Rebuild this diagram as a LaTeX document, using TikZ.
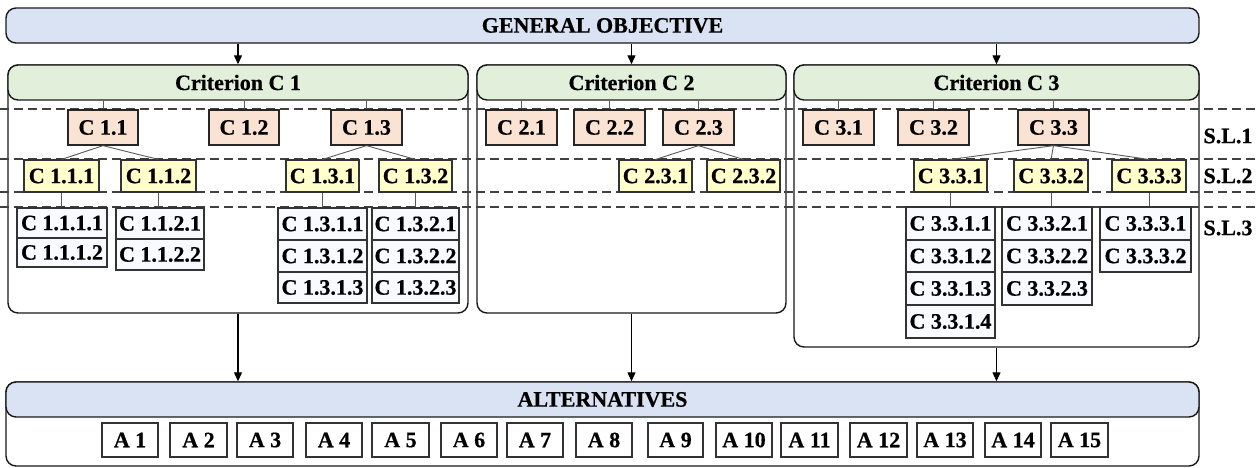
\documentclass[tikz,border=0pt]{standalone}
\usepackage{fontspec}
\setmainfont{Liberation Serif}[BoldFeatures={FakeBold=0.6}]
\usetikzlibrary{arrows.meta}
\definecolor{hdrblue}{HTML}{DAE3F3}
\definecolor{hdrgreen}{HTML}{E2EFDA}
\definecolor{lvlone}{HTML}{FBE3D4}
\definecolor{lvltwo}{HTML}{FFFFCC}
\definecolor{lvlthree}{HTML}{F8FAFD}
\newcommand{\mkbox}[7]{\node[#6, minimum width={#4pt-#2pt}, minimum height={#5pt-#3pt}] (#1) at ({(#2+#4)/2},{(#3+#5)/2}) {#7};}
\begin{document}
\begin{tikzpicture}[x=1pt,y=-1pt,
  txt/.style={font=\fontsize{22}{25}\selectfont\bfseries, text=black},
  frame/.style={draw=black!90, line width=1.4pt, rounded corners=10pt, inner sep=0pt},
  hdrb/.style={frame, fill=hdrblue, txt},
  hdrg/.style={frame, fill=hdrgreen, txt},
  cell/.style={draw=black!80, line width=1.1pt, inner sep=0pt, txt},
  lone/.style={cell, fill=lvlone, draw=black!85, line width=1.3pt},
  ltwo/.style={cell, fill=lvltwo},
  lthree/.style={cell, fill=lvlthree},
  abox/.style={cell, fill=white},
  conn/.style={draw=black!65, line width=0.9pt},
  arr/.style={draw=black, line width=1.2pt, -{Triangle[length=9pt,width=8pt]}},
  sepline/.style={draw=black!75, line width=1.1pt, dash pattern=on 9pt off 5pt},
  sl/.style={txt, inner sep=0pt}
]
\useasboundingbox (0,0) rectangle (1259,468);
% containers (no fill)
\mkbox{C1box}{8}{65}{468}{313}{frame}{}
\mkbox{C2box}{477}{65}{786}{313}{frame}{}
\mkbox{C3box}{794}{65}{1199}{347}{frame}{}
\mkbox{Altbox}{6}{382}{1199}{466}{frame}{}
% level separators
\foreach \yy in {109,159,192,207} {\draw[sepline] (0,\yy) -- (1255,\yy);}
% headers
\mkbox{GO}{6}{8}{1199}{43}{hdrb}{GENERAL OBJECTIVE}
\mkbox{C1}{8}{65}{468}{100}{hdrg}{Criterion C 1}
\mkbox{C2}{477}{65}{786}{100}{hdrg}{Criterion C 2}
\mkbox{C3}{794}{65}{1199}{100}{hdrg}{Criterion C 3}
\mkbox{ALT}{6}{382}{1199}{417}{hdrb}{ALTERNATIVES}
% arrows
\draw[arr] (C1.north |- GO.south) -- (C1.north);
\draw[arr] (C2.north |- GO.south) -- (C2.north);
\draw[arr] (C3.north |- GO.south) -- (C3.north);
\draw[arr] (C1box.south) -- (C1box.south |- ALT.north);
\draw[arr] (C2box.south) -- (C2box.south |- ALT.north);
\draw[arr] (C3box.south) -- (C3box.south |- ALT.north);
% level 1
\mkbox{c11}{68}{110}{138}{145}{lone}{C 1.1}
\mkbox{c12}{209}{110}{279}{145}{lone}{C 1.2}
\mkbox{c13}{331}{110}{402}{145}{lone}{C 1.3}
\mkbox{c21}{486}{110}{557}{145}{lone}{C 2.1}
\mkbox{c22}{574}{110}{645}{145}{lone}{C 2.2}
\mkbox{c23}{663}{110}{734}{145}{lone}{C 2.3}
\mkbox{c31}{803}{110}{874}{145}{lone}{C 3.1}
\mkbox{c32}{898}{110}{969}{145}{lone}{C 3.2}
\mkbox{c33}{1018}{110}{1089}{145}{lone}{C 3.3}
\foreach \p/\c in {C1/c11,C1/c12,C1/c13,C2/c21,C2/c22,C2/c23,C3/c31,C3/c32,C3/c33}
  {\draw[conn] (\c.north |- \p.south) -- (\c.north);}
% level 2
\mkbox{c111}{24}{160}{99}{192}{ltwo}{C 1.1.1}
\mkbox{c112}{121}{160}{196}{192}{ltwo}{C 1.1.2}
\mkbox{c131}{286}{160}{359}{192}{ltwo}{C 1.3.1}
\mkbox{c132}{379}{160}{452}{192}{ltwo}{C 1.3.2}
\mkbox{c231}{619}{160}{692}{192}{ltwo}{C 2.3.1}
\mkbox{c232}{707}{160}{780}{192}{ltwo}{C 2.3.2}
\mkbox{c331}{914}{160}{987}{192}{ltwo}{C 3.3.1}
\mkbox{c332}{1014}{160}{1088}{192}{ltwo}{C 3.3.2}
\mkbox{c333}{1112}{160}{1186}{192}{ltwo}{C 3.3.3}
\foreach \p/\c in {c11/c111,c11/c112,c13/c131,c13/c132,c23/c231,c23/c232,c33/c331,c33/c332,c33/c333}
  {\draw[conn] (\p.south) -- (\c.north);}
% level 3
\mkbox{c1111}{17}{208}{107}{238}{lthree}{C 1.1.1.1}
\mkbox{c1112}{17}{238}{107}{267}{lthree}{C 1.1.1.2}
\mkbox{c1121}{116}{208}{204}{239}{lthree}{C 1.1.2.1}
\mkbox{c1122}{116}{239}{204}{270}{lthree}{C 1.1.2.2}
\mkbox{c1311}{278}{208}{367}{240}{lthree}{C 1.3.1.1}
\mkbox{c1312}{278}{240}{367}{272}{lthree}{C 1.3.1.2}
\mkbox{c1313}{278}{272}{367}{303}{lthree}{C 1.3.1.3}
\mkbox{c1321}{372}{208}{459}{240}{lthree}{C 1.3.2.1}
\mkbox{c1322}{372}{240}{459}{272}{lthree}{C 1.3.2.2}
\mkbox{c1323}{372}{272}{459}{303}{lthree}{C 1.3.2.3}
\mkbox{c3311}{906}{207}{995}{240}{lthree}{C 3.3.1.1}
\mkbox{c3312}{906}{240}{995}{272}{lthree}{C 3.3.1.2}
\mkbox{c3313}{906}{272}{995}{305}{lthree}{C 3.3.1.3}
\mkbox{c3314}{906}{305}{995}{338}{lthree}{C 3.3.1.4}
\mkbox{c3321}{1002}{207}{1092}{240}{lthree}{C 3.3.2.1}
\mkbox{c3322}{1002}{240}{1092}{272}{lthree}{C 3.3.2.2}
\mkbox{c3323}{1002}{272}{1092}{305}{lthree}{C 3.3.2.3}
\mkbox{c3331}{1100}{207}{1191}{240}{lthree}{C 3.3.3.1}
\mkbox{c3332}{1100}{240}{1191}{272}{lthree}{C 3.3.3.2}
\foreach \p/\c in {c111/c1111,c112/c1121,c131/c1311,c132/c1321,c331/c3311,c332/c3321,c333/c3331}
  {\draw[conn] (\p.south) -- (\c.north -| \p.south);}
% side labels
\node[sl] (sl1) at (1228,136) {S.L.1};
\node[sl] (sl2) at (1228,176) {S.L.2};
\node[sl] (sl3) at (1228,228) {S.L.3};
% alternatives
\foreach \a/\b/\n in {102/158/1,170/227/2,237/293/3,306/362/4,372/429/5,441/497/6,507/563/7,576/632/8,648/703/9,716/772/10,781/838/11,850/907/12,917/973/13,985/1041/14,1051/1108/15}
  {\mkbox{a\n}{\a}{423}{\b}{457}{abox}{A \n}}
\end{tikzpicture}
\end{document}
